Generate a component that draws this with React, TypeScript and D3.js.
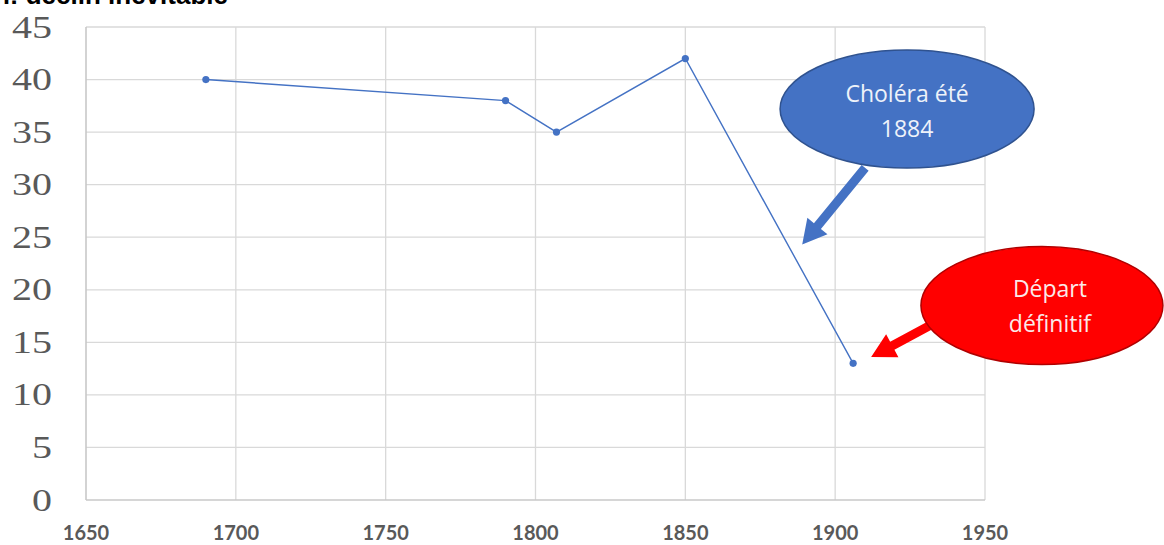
import { useEffect, useRef } from "react";
import * as d3 from "d3";

// data
const years = [1690, 1790, 1807, 1850, 1906];
const values = [40, 38, 35, 42, 13];
const xTicks = [1650, 1700, 1750, 1800, 1850, 1900, 1950];
const yTicks = [0, 5, 10, 15, 20, 25, 30, 35, 40, 45];

// callouts, in data coordinates
const calloutLines = [["Choléra été", "1884"], ["Départ", "définitif"]];
const calloutCenters = [[1924, 37.2], [1969, 18.5]];
const calloutTails = [[1910, 31.6], [1931.6, 16.6]];
const calloutTips = [[1889, 24.3], [1912, 13.6]];
const calloutFill = ["#4472c4", "#ff0000"];
const calloutStroke = ["#2f528f", "#b00000"];

const App = () => {
  const svgRef = useRef<SVGSVGElement>(null);

  useEffect(() => {
    if (!svgRef.current) return;
    d3.select(svgRef.current).selectAll("*").remove();

    const width = 1164;
    const height = 545;
    const svg = d3.select(svgRef.current)
      .attr("width", width)
      .attr("height", height);

    const x = d3.scaleLinear().domain([1650, 1950]).range([86, 985]);
    const y = d3.scaleLinear().domain([0, 45]).range([500, 27]);

    // title (cut off at the top)
    svg.append("text")
      .attr("x", 228)
      .attr("y", 4)
      .attr("text-anchor", "end")
      .style("font-family", "'Liberation Sans', Arial, sans-serif")
      .style("font-weight", "700")
      .style("font-size", "26px")
      .style("fill", "#000")
      .text("Population: déclin inévitable");

    // grid
    svg.append("g").selectAll("line")
      .data(yTicks.filter(d => d > 0))
      .join("line")
      .attr("x1", x(1650)).attr("x2", x(1950))
      .attr("y1", d => y(d)).attr("y2", d => y(d))
      .attr("stroke", "#d9d9d9").attr("stroke-width", 1.3);

    svg.append("g").selectAll("line")
      .data(xTicks.filter(d => d > 1650))
      .join("line")
      .attr("x1", d => x(d)).attr("x2", d => x(d))
      .attr("y1", y(0)).attr("y2", y(45))
      .attr("stroke", "#d9d9d9").attr("stroke-width", 1.3);

    // axis lines
    svg.append("line")
      .attr("x1", x(1650)).attr("x2", x(1650))
      .attr("y1", y(0)).attr("y2", y(45))
      .attr("stroke", "#c8c8c8").attr("stroke-width", 1.6);
    svg.append("line")
      .attr("x1", x(1650)).attr("x2", x(1950))
      .attr("y1", y(0)).attr("y2", y(0))
      .attr("stroke", "#c8c8c8").attr("stroke-width", 1.6);

    // y labels
    svg.append("g").selectAll("text")
      .data(yTicks)
      .join("text")
      .attr("transform", d => `translate(52,${y(d)}) scale(1.25,1)`)
      .attr("text-anchor", "end")
      .attr("dominant-baseline", "central")
      .style("font-family", "'Liberation Serif', 'Times New Roman', serif")
      .style("font-size", "32px")
      .style("fill", "#595959")
      .text(d => d);

    // x labels
    svg.append("g").selectAll("text")
      .data(xTicks)
      .join("text")
      .attr("x", d => x(d))
      .attr("y", 532)
      .attr("text-anchor", "middle")
      .attr("dominant-baseline", "central")
      .style("font-family", "Lato, 'Open Sans', sans-serif")
      .style("font-weight", "700")
      .style("font-size", "20px")
      .style("fill", "#595959")
      .text(d => d);

    // series
    const pts = years.map((yr, i) => [yr, values[i]] as [number, number]);
    const line = d3.line<[number, number]>().x(d => x(d[0])).y(d => y(d[1]));
    svg.append("path")
      .attr("d", line(pts))
      .attr("fill", "none")
      .attr("stroke", "#4472c4")
      .attr("stroke-width", 1.4);
    svg.append("g").selectAll("circle")
      .data(pts)
      .join("circle")
      .attr("cx", d => x(d[0]))
      .attr("cy", d => y(d[1]))
      .attr("r", 3.6)
      .attr("fill", "#4472c4");

    // callouts
    calloutLines.forEach((lines, i) => {
      const [cx, cy] = calloutCenters[i];
      const [tx, ty] = calloutTails[i];
      const [px, py] = calloutTips[i];
      const x0 = x(tx), y0 = y(ty), x1 = x(px), y1 = y(py);
      const ang = Math.atan2(y1 - y0, x1 - x0);
      const len = Math.hypot(x1 - x0, y1 - y0);
      const head = 24, shaft = 4.5, hw = 13;
      const g = svg.append("g")
        .attr("transform", `translate(${x0},${y0}) rotate(${ang * 180 / Math.PI})`);
      g.append("path")
        .attr("d", `M0,${-shaft} L${len - head},${-shaft} L${len - head},${-hw} L${len},0 L${len - head},${hw} L${len - head},${shaft} L0,${shaft} Z`)
        .attr("fill", calloutFill[i]);

      svg.append("ellipse")
        .attr("cx", x(cx))
        .attr("cy", y(cy))
        .attr("rx", i === 0 ? 127 : 121)
        .attr("ry", 59)
        .attr("fill", calloutFill[i])
        .attr("stroke", calloutStroke[i])
        .attr("stroke-width", 1.5);

      svg.append("g").selectAll("text")
        .data(lines)
        .join("text")
        .attr("x", x(cx) + (i === 0 ? 0 : 8))
        .attr("y", (_, j) => y(cy) + (i === 0 ? (j === 0 ? -16 : 19) : (j === 0 ? -18 : 17)))
        .attr("text-anchor", "middle")
        .attr("dominant-baseline", "central")
        .style("font-family", "'Open Sans', Lato, sans-serif")
        .style("font-size", "23px")
        .style("fill", i === 0 ? "#eef2fa" : "#fbe9e9")
        .text(d => d);
    });
  }, []);

  return (
    <div style={{ position: "absolute", left: 0, top: 0, background: "#fff" }}>
      <svg ref={svgRef}></svg>
    </div>
  );
};

export default App;
